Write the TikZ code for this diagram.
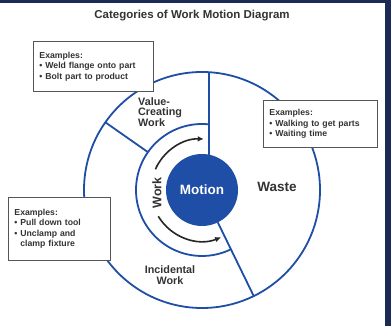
\documentclass[tikz,border=0pt]{standalone}
\usepackage{fontspec}
\setmainfont{Liberation Sans}
\usetikzlibrary{arrows.meta,positioning,calc}
\definecolor{wmblue}{HTML}{1F4EA6}
\definecolor{wmnavy}{HTML}{1B2B55}
\definecolor{wmtext}{HTML}{333333}
\definecolor{wmgray}{HTML}{555555}

\begin{document}
\begin{tikzpicture}[x=1pt,y=1pt,>={Latex[length=6pt,width=5.5pt]},
   ring/.style={wmblue,line width=1.8pt},
   exbox/.style={draw=wmgray,line width=0.9pt,fill=white,anchor=north west,
     inner xsep=6pt,inner ysep=0pt,align=left,text=wmtext,
     font=\fontsize{8.7}{10.4}\selectfont\bfseries},
   lab/.style={text=wmtext,inner sep=0pt,font=\fontsize{10.8}{10.8}\selectfont\bfseries},
   flow/.style={->,line width=1.6pt,black!85}]
  \fill[wmnavy] (0,0) rectangle (391,326);
  \fill[white] (0,0) rectangle (385,323);
  \useasboundingbox (0,0) rectangle (391,326);
  \node[text=wmtext,font=\fontsize{11.5}{13}\selectfont\bfseries] (title) at (192,310)
    {Categories of Work Motion Diagram};
  \coordinate (c) at (202,136);
  % outer ring and work arc
  \draw[ring] (c) circle[radius=118];
  \draw[ring] ($(c)+(83.9:66)$) arc[start angle=83.9,end angle=296,radius=66];
  % dividers
  \coordinate (vt) at ($(c)+(7,117.8)$);
  \coordinate (vb) at ($(c)+(7,35.3)$);
  \coordinate (lt) at ($(c)+(-64:36)$);
  \coordinate (lb) at ($(c)+(-64:118)$);
  \coordinate (dt) at ($(c)+(145:66)$);
  \coordinate (db) at ($(c)+(145:118)$);
  \draw[ring] (vt) -- (vb);
  \draw[ring] (lt) -- (lb);
  \draw[ring] (dt) -- (db);
  \node[circle,fill=wmblue,minimum size=72pt,inner sep=0pt,text=white,
    font=\fontsize{13.5}{15}\selectfont\bfseries] (motion) at (c) {Motion};
  % flow arrows
  \draw[flow] ($(c)+(156:51)$) arc[start angle=156,end angle=88,radius=51];
  \draw[flow] ($(c)+(211:51)$) arc[start angle=211,end angle=292,radius=51];
  \node[lab,rotate=90,font=\fontsize{12.5}{14}\selectfont\bfseries] (work) at (157,133) {Work};
  % region labels
  \node[lab,anchor=west,align=left] (vcw) at (138,214) {Value-\\Creating\\Work};
  \node[lab,align=center] (inc) at (170,51) {Incidental\\Work};
  \node[lab,font=\fontsize{13.5}{15}\selectfont\bfseries] (waste) at (277,139) {Waste};
  % example boxes
  \node[exbox,text width=108pt,minimum width=120pt,minimum height=50pt] (ex1) at (33,285)
    {Examples:\\\textbullet\ Weld flange onto part\\\textbullet\ Bolt part to product};
  \node[exbox,text width=102pt,minimum width=114pt,minimum height=47pt] (ex2) at (263,226)
    {Examples:\\\textbullet\ Walking to get parts\\\textbullet\ Waiting time};
  \node[exbox,text width=90pt,minimum width=102pt,minimum height=63pt] (ex3) at (8,129)
    {Examples:\\\textbullet\ Pull down tool\\\textbullet\ Unclamp and\\\phantom{\textbullet\ }clamp fixture};
\end{tikzpicture}
\end{document}
